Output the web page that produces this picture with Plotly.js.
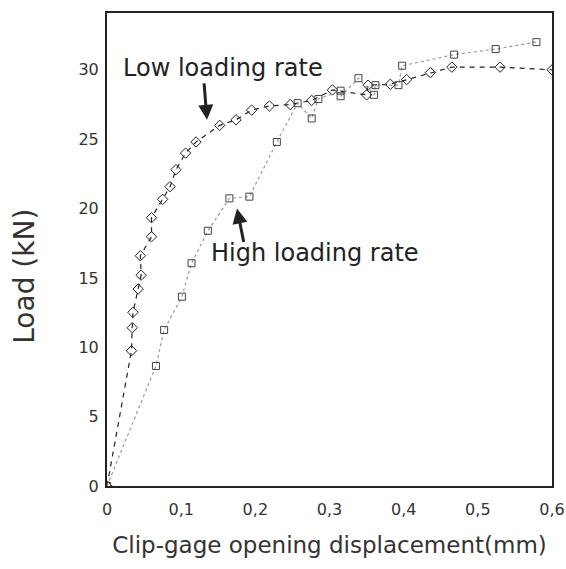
<!DOCTYPE html>
<html>
<head>
<meta charset="utf-8">
<script src="https://cdn.plot.ly/plotly-3.0.1.min.js"></script>
<style>html,body{margin:0;padding:0;background:#fff;}#chart{width:566px;height:569px;}</style>
</head>
<body>
<div id="chart"></div>
<script>
// Low loading rate (diamonds, dashed)
const lowX = [0, 0.033, 0.034, 0.035, 0.042, 0.046, 0.045, 0.060, 0.060, 0.075, 0.085, 0.093, 0.106, 0.120, 0.152, 0.174, 0.195, 0.219, 0.247, 0.276, 0.304, 0.350, 0.352, 0.382, 0.404, 0.436, 0.465, 0.530, 0.600];
const lowY = [0, 9.75, 11.41, 12.52, 14.2, 15.2, 16.6, 17.97, 19.34, 20.67, 21.58, 22.8, 24.0, 24.8, 26.0, 26.4, 27.1, 27.4, 27.5, 27.8, 28.55, 28.2, 28.9, 28.96, 29.3, 29.8, 30.2, 30.2, 30.0];
// High loading rate (squares, dotted)
const highX = [0, 0.066, 0.077, 0.101, 0.114, 0.136, 0.165, 0.192, 0.229, 0.257, 0.276, 0.285, 0.315, 0.315, 0.339, 0.360, 0.362, 0.393, 0.398, 0.468, 0.524, 0.579];
const highY = [0, 8.65, 11.25, 13.65, 16.06, 18.4, 20.74, 20.86, 24.8, 27.6, 26.5, 27.9, 28.5, 28.1, 29.4, 28.2, 28.9, 28.9, 30.3, 31.1, 31.5, 32.0];
// Axis ticks
const xTickVals = [0, 0.1, 0.2, 0.3, 0.4, 0.5, 0.6];
const xTickText = ["0", "0,1", "0,2", "0,3", "0,4", "0,5", "0,6"];
const yTickVals = [0, 5, 10, 15, 20, 25, 30];
const yTickText = ["0", "5", "10", "15", "20", "25", "30"];

const font = "DejaVu Sans, Liberation Sans, Arial, sans-serif";
const traces = [
  {x: lowX, y: lowY, mode: "lines+markers", name: "Low loading rate",
   line: {color: "#222", width: 1.2, dash: "5px,5px"},
   marker: {symbol: "diamond-open", size: 8, color: "#222", line: {width: 1}}},
  {x: highX, y: highY, mode: "lines+markers", name: "High loading rate",
   line: {color: "#999", width: 1.2, dash: "dot"},
   marker: {symbol: "square-open", size: 7, color: "#444", line: {width: 1}}}
];
const layout = {
  width: 566, height: 569,
  margin: {l: 107, r: 14, t: 13, b: 83},
  paper_bgcolor: "#fff", plot_bgcolor: "#fff",
  showlegend: false,
  font: {family: font, color: "#222"},
  xaxis: {range: [0, 0.6], tickvals: xTickVals, ticktext: xTickText, ticks: "",
    showgrid: false, zeroline: false, showline: true, mirror: true, linecolor: "#222", linewidth: 2,
    tickfont: {size: 16, color: "#333"}, ticklabelstandoff: 8,
    title: {text: "Clip-gage opening displacement(mm)", font: {size: 23, color: "#333"}, standoff: 19}},
  yaxis: {range: [0, 34.1], tickvals: yTickVals, ticktext: yTickText, ticks: "",
    showgrid: false, zeroline: false, showline: true, mirror: true, linecolor: "#222", linewidth: 2,
    tickfont: {size: 16, color: "#333"}, ticklabelstandoff: 3,
    title: {text: "Load (kN)&nbsp;&nbsp;&nbsp;&nbsp;&nbsp;&nbsp;", font: {size: 28, color: "#333"}, standoff: 36}},
  annotations: [
    {x: 0.1564, y: 30.14, xref: "x", yref: "y", text: "Low loading rate", showarrow: false,
     font: {size: 24, color: "#222"}},
    {x: 0.1348, y: 26.4, xref: "x", yref: "y", ax: -3, ay: -38, text: "",
     showarrow: true, arrowhead: 2, arrowsize: 1, arrowwidth: 3, arrowcolor: "#222"},
    {x: 0.281, y: 16.8, xref: "x", yref: "y", text: "High loading rate", showarrow: false,
     font: {size: 24, color: "#222"}},
    {x: 0.1753, y: 20.0, xref: "x", yref: "y", ax: 7, ay: 35, text: "",
     showarrow: true, arrowhead: 2, arrowsize: 1, arrowwidth: 3, arrowcolor: "#222"}
  ]
};
Plotly.newPlot("chart", traces, layout, {displayModeBar: false, staticPlot: true});
</script>
</body>
</html>
